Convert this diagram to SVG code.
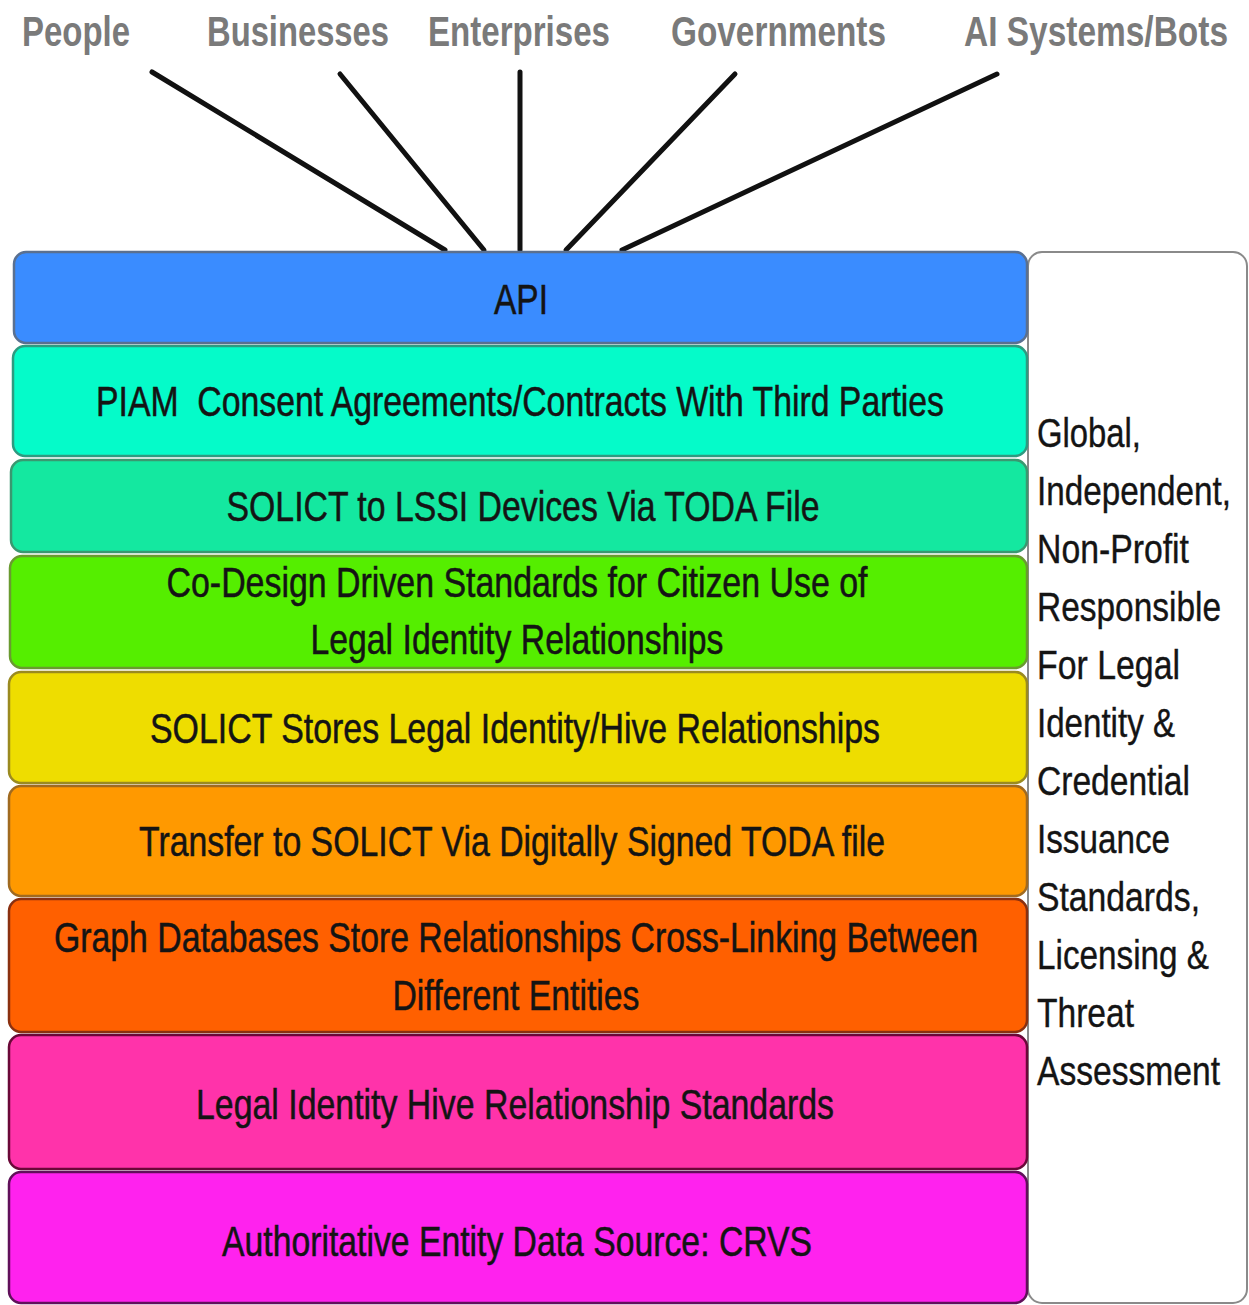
<svg xmlns="http://www.w3.org/2000/svg" width="1249" height="1305" viewBox="0 0 1249 1305">
  <style>
    .actor { font-family: "Liberation Sans", Arial, sans-serif; font-size: 43px; font-weight: bold; fill: #7a7a7a; }
    .layer-text { font-family: "Liberation Sans", Arial, sans-serif; font-size: 42px; fill: #141414; stroke: #141414; stroke-width: 0.5; text-anchor: middle; }
    .side-text { font-family: "Liberation Sans", Arial, sans-serif; font-size: 41px; fill: #141414; stroke: #141414; stroke-width: 0.4; }
    .link { stroke: #111; stroke-width: 5; stroke-linecap: round; fill: none; }
    .layer { stroke-width: 2.5; }
  </style>

  <!-- consumers of the API -->
  <g id="actors">
    <g id="actor-people"><text class="actor" x="22" y="46" textLength="108" lengthAdjust="spacingAndGlyphs">People</text></g>
    <g id="actor-businesses"><text class="actor" x="207" y="46" textLength="182" lengthAdjust="spacingAndGlyphs">Businesses</text></g>
    <g id="actor-enterprises"><text class="actor" x="428" y="46" textLength="182" lengthAdjust="spacingAndGlyphs">Enterprises</text></g>
    <g id="actor-governments"><text class="actor" x="671" y="46" textLength="215" lengthAdjust="spacingAndGlyphs">Governments</text></g>
    <g id="actor-ai"><text class="actor" x="964" y="46" textLength="264" lengthAdjust="spacingAndGlyphs">AI Systems/Bots</text></g>
  </g>

  <!-- lines from each consumer to the API layer -->
  <g id="connectors">
    <line class="link" x1="152" y1="72" x2="445" y2="250"/>
    <line class="link" x1="340" y1="74" x2="484" y2="250"/>
    <line class="link" x1="520" y1="72" x2="520" y2="250"/>
    <line class="link" x1="735" y1="74" x2="566" y2="250"/>
    <line class="link" x1="997" y1="74" x2="622" y2="250"/>
  </g>

  <!-- governance side panel -->
  <g id="governance">
    <rect x="1028" y="252" width="219" height="1051" rx="14" fill="#ffffff" stroke="#8a8a8a" stroke-width="2"/>
    <text class="side-text" x="1037" y="447" textLength="104" lengthAdjust="spacingAndGlyphs">Global,</text>
    <text class="side-text" x="1037" y="505" textLength="194" lengthAdjust="spacingAndGlyphs">Independent,</text>
    <text class="side-text" x="1037" y="563" textLength="152" lengthAdjust="spacingAndGlyphs">Non-Profit</text>
    <text class="side-text" x="1037" y="621" textLength="184" lengthAdjust="spacingAndGlyphs">Responsible</text>
    <text class="side-text" x="1037" y="679" textLength="143" lengthAdjust="spacingAndGlyphs">For Legal</text>
    <text class="side-text" x="1037" y="737" textLength="138" lengthAdjust="spacingAndGlyphs">Identity &amp;</text>
    <text class="side-text" x="1037" y="795" textLength="153" lengthAdjust="spacingAndGlyphs">Credential</text>
    <text class="side-text" x="1037" y="853" textLength="133" lengthAdjust="spacingAndGlyphs">Issuance</text>
    <text class="side-text" x="1037" y="911" textLength="163" lengthAdjust="spacingAndGlyphs">Standards,</text>
    <text class="side-text" x="1037" y="969" textLength="172" lengthAdjust="spacingAndGlyphs">Licensing &amp;</text>
    <text class="side-text" x="1037" y="1027" textLength="97" lengthAdjust="spacingAndGlyphs">Threat</text>
    <text class="side-text" x="1037" y="1085" textLength="183" lengthAdjust="spacingAndGlyphs">Assessment</text>
  </g>

  <!-- stack layers, top to bottom -->
  <g id="layer-api">
    <rect class="layer" x="14" y="252" width="1013" height="91" rx="12" fill="#3a8cff" stroke="#5a7090"/>
    <text class="layer-text" x="521" y="314" textLength="54" lengthAdjust="spacingAndGlyphs">API</text>
  </g>
  <g id="layer-piam">
    <rect class="layer" x="13" y="346" width="1014" height="110" rx="12" fill="#05fbc9" stroke="#2e9a80"/>
    <text class="layer-text" x="520" y="416" textLength="848" lengthAdjust="spacingAndGlyphs" xml:space="preserve">PIAM  Consent Agreements/Contracts With Third Parties</text>
  </g>
  <g id="layer-lssi">
    <rect class="layer" x="11" y="460" width="1016" height="92" rx="12" fill="#14e8a0" stroke="#3a9870"/>
    <text class="layer-text" x="523" y="521" textLength="593" lengthAdjust="spacingAndGlyphs">SOLICT to LSSI Devices Via TODA File</text>
  </g>
  <g id="layer-codesign">
    <rect class="layer" x="10" y="556" width="1017" height="112" rx="12" fill="#55ee00" stroke="#6a9a30"/>
    <text class="layer-text" x="517" y="597" textLength="701" lengthAdjust="spacingAndGlyphs">Co-Design Driven Standards for Citizen Use of</text>
    <text class="layer-text" x="517" y="654" textLength="413" lengthAdjust="spacingAndGlyphs">Legal Identity Relationships</text>
  </g>
  <g id="layer-stores">
    <rect class="layer" x="9" y="672" width="1018" height="111" rx="12" fill="#eedd00" stroke="#9a8a20"/>
    <text class="layer-text" x="515" y="743" textLength="730" lengthAdjust="spacingAndGlyphs">SOLICT Stores Legal Identity/Hive Relationships</text>
  </g>
  <g id="layer-transfer">
    <rect class="layer" x="9" y="786" width="1018" height="110" rx="12" fill="#ff9900" stroke="#a06a20"/>
    <text class="layer-text" x="512" y="856" textLength="746" lengthAdjust="spacingAndGlyphs">Transfer to SOLICT Via Digitally Signed TODA file</text>
  </g>
  <g id="layer-graph">
    <rect class="layer" x="9" y="899" width="1018" height="133" rx="12" fill="#ff6000" stroke="#8a3010"/>
    <text class="layer-text" x="516" y="952" textLength="924" lengthAdjust="spacingAndGlyphs">Graph Databases Store Relationships Cross-Linking Between</text>
    <text class="layer-text" x="516" y="1010" textLength="247" lengthAdjust="spacingAndGlyphs">Different Entities</text>
  </g>
  <g id="layer-hive">
    <rect class="layer" x="9" y="1035" width="1018" height="134" rx="12" fill="#ff33aa" stroke="#6a0838"/>
    <text class="layer-text" x="515" y="1119" textLength="638" lengthAdjust="spacingAndGlyphs">Legal Identity Hive Relationship Standards</text>
  </g>
  <g id="layer-crvs">
    <rect class="layer" x="9" y="1172" width="1018" height="131" rx="12" fill="#ff22ee" stroke="#60105a"/>
    <text class="layer-text" x="517" y="1256" textLength="590" lengthAdjust="spacingAndGlyphs">Authoritative Entity Data Source: CRVS</text>
  </g>
</svg>
